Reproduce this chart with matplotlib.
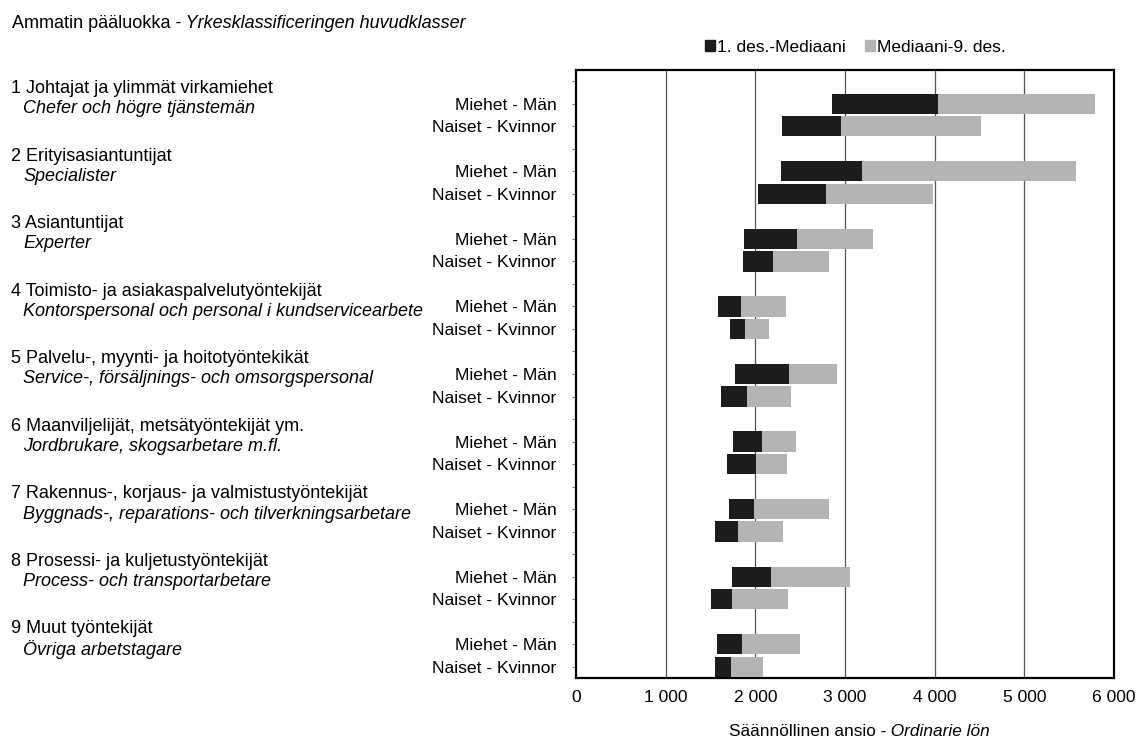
import matplotlib
matplotlib.use("Agg")
import matplotlib.pyplot as plt
import matplotlib.transforms as mtransforms
from matplotlib.offsetbox import TextArea, HPacker, AnnotationBbox
from matplotlib.patches import Patch
import numpy as np

plt.rcParams['font.family'] = ['Liberation Sans', 'DejaVu Sans']

# occupational groups (Finnish / Swedish)
groups_fi = ["1 Johtajat ja ylimmät virkamiehet",
             "2 Erityisasiantuntijat",
             "3 Asiantuntijat",
             "4 Toimisto- ja asiakaspalvelutyöntekijät",
             "5 Palvelu-, myynti- ja hoitotyöntekikät",
             "6 Maanviljelijät, metsätyöntekijät ym.",
             "7 Rakennus-, korjaus- ja valmistustyöntekijät",
             "8 Prosessi- ja kuljetustyöntekijät",
             "9 Muut työntekijät"]
groups_sv = ["Chefer och högre tjänstemän",
             "Specialister",
             "Experter",
             "Kontorspersonal och personal i kundservicearbete",
             "Service-, försäljnings- och omsorgspersonal",
             "Jordbrukare, skogsarbetare m.fl.",
             "Byggnads-, reparations- och tilverkningsarbetare",
             "Process- och transportarbetare",
             "Övriga arbetstagare"]
row_labels = ["Miehet - Män", "Naiset - Kvinnor"]

# 1st decile, median, 9th decile (EUR / month)
men_d1 = [2850, 2290, 1870, 1580, 1770, 1750, 1710, 1740, 1570]
men_median = [4040, 3190, 2470, 1840, 2380, 2070, 1980, 2180, 1850]
men_d9 = [5790, 5580, 3310, 2340, 2910, 2450, 2820, 3060, 2500]
women_d1 = [2300, 2030, 1860, 1720, 1620, 1680, 1550, 1510, 1550]
women_median = [2960, 2790, 2200, 1890, 1910, 2010, 1810, 1740, 1730]
women_d9 = [4520, 3980, 2820, 2150, 2400, 2350, 2310, 2360, 2080]

legend_labels = ["1. des.-Mediaani", "Mediaani-9. des."]
x_ticks = [0, 1000, 2000, 3000, 4000, 5000, 6000]

W, H = 1141, 739
dark = '#1c1c1c'
light = '#b4b4b4'
fs = 12.6

fig = plt.figure(figsize=(W / 100, H / 100), dpi=100)
ax = fig.add_axes([576 / W, 1 - 678 / H, (1114 - 576) / W, (678 - 70) / H])

n = len(groups_fi)
y_men = np.arange(n) * 3 + 1.5
y_women = np.arange(n) * 3 + 2.5
bh = 0.9

ax.barh(y_men, np.array(men_median) - np.array(men_d1), left=men_d1,
        height=bh, color=dark, zorder=3)
ax.barh(y_men, np.array(men_d9) - np.array(men_median), left=men_median,
        height=bh, color=light, zorder=3)
ax.barh(y_women, np.array(women_median) - np.array(women_d1), left=women_d1,
        height=bh, color=dark, zorder=3)
ax.barh(y_women, np.array(women_d9) - np.array(women_median),
        left=women_median, height=bh, color=light, zorder=3)

ax.set_xlim(0, 6000)
ax.set_ylim(n * 3, 0)
ax.set_xticks(x_ticks)
ax.set_xticklabels([f"{v:,}".replace(",", " ") for v in x_ticks], fontsize=fs)
ax.tick_params(axis='x', length=0, pad=8.5)
for v in x_ticks[1:-1]:
    ax.axvline(v, color='#555555', lw=0.9, zorder=1)

yt = np.arange(n * 3) + 0.5
ylabels = []
for i in range(n * 3):
    k = i % 3
    ylabels.append(row_labels[k - 1] if k > 0 else "")
ax.set_yticks(yt)
ax.set_yticklabels(ylabels, fontsize=fs)
ax.tick_params(axis='y', length=3, width=0.8, color='#888888', pad=11)

for s in ax.spines.values():
    s.set_linewidth(1.6)
    s.set_color('black')

# group labels on the far left
trans = mtransforms.blended_transform_factory(fig.transFigure, ax.transData)
for g in range(n):
    ax.text(11 / W, g * 3 + 0.82, groups_fi[g], transform=trans,
            fontsize=13, va='center', ha='left', clip_on=False)
    ax.text(23 / W, g * 3 + 1.72, groups_sv[g], transform=trans,
            fontsize=13, va='center', ha='left', style='italic', clip_on=False)


def mixed_text(x, y, parts, size, align):
    boxes = [TextArea(t, textprops=dict(fontsize=size, fontstyle=st))
             for t, st in parts]
    pack = HPacker(children=boxes, pad=0, sep=0, align='baseline')
    ab = AnnotationBbox(pack, (x, y), xycoords='figure pixels',
                        box_alignment=align, frameon=False, pad=0)
    fig.add_artist(ab)


mixed_text(12, H - 23, [("Ammatin pääluokka -", 'normal'),
                        (" Yrkesklassificeringen huvudklasser", 'italic')],
           13, (0, 0.5))
mixed_text(729, H - 731, [("Säännöllinen ansio -", 'normal'),
                          (" Ordinarie lön", 'italic')],
           12.4, (0, 0.5))

handles = [Patch(color=dark), Patch(color=light)]
fig.legend(handles, legend_labels, loc='center left',
           bbox_to_anchor=(705 / W, 1 - 47 / H), ncol=2, frameon=False,
           fontsize=12.5, handlelength=0.55, handleheight=0.55,
           handletextpad=0.15, columnspacing=1.1, borderpad=0,
           borderaxespad=0)

plt.savefig("out.png", dpi=100)
